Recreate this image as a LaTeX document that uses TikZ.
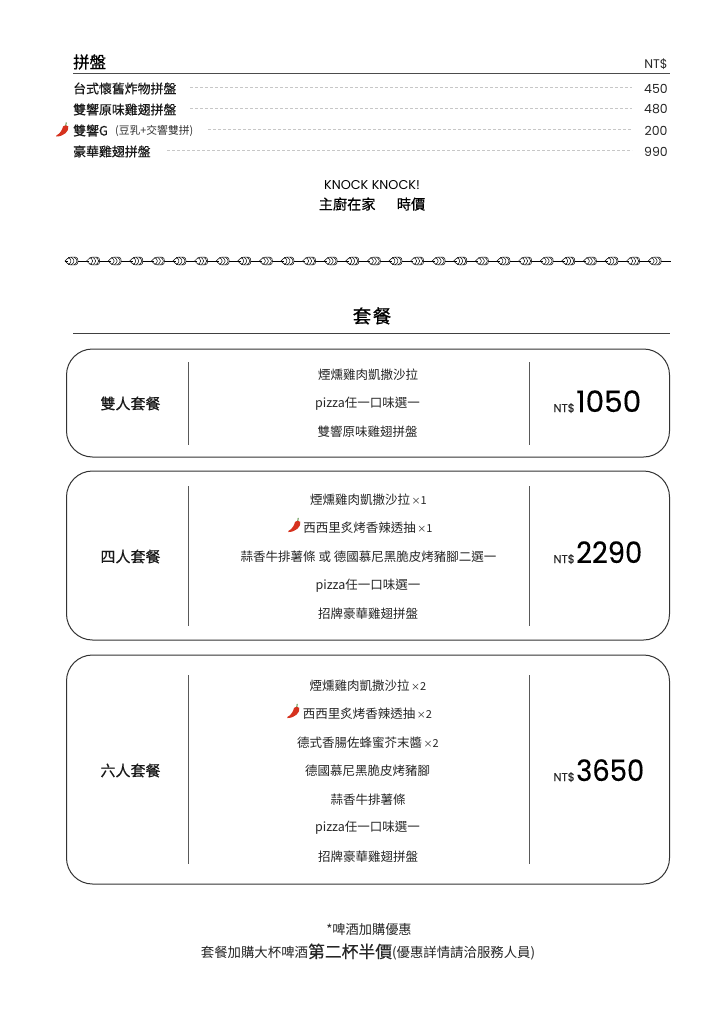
\documentclass[tikz,border=0pt]{standalone}
\usepackage{fontspec}
\setmainfont{Noto Sans CJK TC}
\newfontfamily\med[FakeBold=0.35]{Noto Sans CJK TC}
\newfontfamily\hvy[FakeBold=0.8]{Noto Sans CJK TC}
\newfontfamily\pop{Poppins}
\newfontfamily\popm[FakeBold=0.25]{Poppins}
\usetikzlibrary{calc}
\definecolor{chilired}{HTML}{D6321E}
\definecolor{stemgreen}{HTML}{4E8A3A}
\tikzset{
  txt/.style={inner sep=0pt,text=black!85,font=\fontsize{12.5}{14}\selectfont},
  itm/.style={inner sep=0pt,anchor=west,text=black!90,font=\med\fontsize{12.9}{14}\selectfont},
  price/.style={inner sep=0pt,text=black!85,font=\pop\fontsize{12.5}{14}\selectfont},
  leader/.style={draw=black!22,line width=.5pt,dash pattern=on 3pt off 2pt},
  card/.style={draw=black!80,line width=1pt,rounded corners=26pt},
  sep/.style={draw=black!65,line width=.9pt},
  setname/.style={inner sep=0pt,font=\med\fontsize{15}{16}\selectfont,text=black!90},
  big/.style={inner sep=0pt,anchor=base west,font=\popm\fontsize{29.5}{30}\selectfont,text=black},
  small/.style={inner sep=0pt,anchor=base east,font=\popm\fontsize{11.4}{12}\selectfont,text=black!85},
  grain/.style={draw=black,line width=.5pt,fill=white}
}
\newcommand{\tm}[1]{\hspace{1.5pt}{\fontsize{9}{10}\selectfont ×}{\fontsize{11}{10}\selectfont #1}}
\newcommand{\chili}[2]{%
  \begin{scope}[shift={(#1,#2)},scale=1.12]
    \fill[chilired] (5.6,-2.8) .. controls (6.6,1.5) and (1.5,6.2) .. (-5,6.3)
      .. controls (-5.6,6.3) and (-5.6,5.6) .. (-5,5.3)
      .. controls (-2,4) and (0.2,0.5) .. (1,-2.8)
      .. controls (2,-4.2) and (4.6,-4.2) .. (5.6,-2.8) -- cycle;
    \draw[stemgreen,line width=.9pt] (3.4,-3.6) -- (3.8,-6.4);
  \end{scope}}
\newcommand{\wheat}[1]{%
  \begin{scope}[shift={(#1,261)}]
    \draw[grain] (-6.5,0) .. controls (-4.5,-1) and (-4,-3.9) .. (-1,-3.9)
      -- (4,-3.9) .. controls (6,-3.9) and (6.5,-2) .. (6.5,0)
      .. controls (6.5,2) and (6,3.9) .. (4,3.9)
      -- (-1,3.9) .. controls (-4,3.9) and (-4.5,1) .. (-6.5,0) -- cycle;
    \foreach \q in {-2.5,0.5,3.5}{
      \draw[black,line width=.5pt,line join=round] (\q-.8,-3.7) .. controls (\q+.6,-3) and (\q+1.8,-1.5) .. (\q+2,0)
         .. controls (\q+1.8,1.5) and (\q+.6,3) .. (\q-.8,3.7);
    }
    \draw[black,line width=.5pt] (-3.8,0) -- (-6.5,0);
  \end{scope}}
\begin{document}
\begin{tikzpicture}[x=1pt,y=-1pt]
\useasboundingbox (0,0) rectangle (724,1024);
\fill[white] (0,0) rectangle (724,1024);

% header
\node[inner sep=0pt,anchor=west,font=\hvy\fontsize{16.4}{18}\selectfont,text=black] (hd) at (73,62) {拼盤};
\node[price] (hdp) at (656,64.5) {NT\$};
\coordinate (hl) at (73,73.5); \coordinate (hr) at (670,73.5);
\draw[draw=black!70,line width=1pt] (hl) -- (hr);

\node[itm] (a1) at (73,88.5) {台式懷舊炸物拼盤};
\node[itm] (a2) at (73,109.5) {雙響原味雞翅拼盤};
\node[itm] (a3) at (73,130.5) {雙響G};
\node[inner sep=0pt,anchor=west,text=black!80,font=\fontsize{10.8}{12}\selectfont] (a3b) at (115,130.5) {(豆乳+交響雙拼)};
\node[itm] (a4) at (73,151.5) {豪華雞翅拼盤};
\node[price] (p1) at (656,88.5) {450};
\node[price] (p2) at (656,109.5) {480};
\node[price] (p3) at (656,130.5) {200};
\node[price] (p4) at (656,151.5) {990};
\coordinate (d1) at (190,87.5); \coordinate (e1) at (632,87.5);
\coordinate (d2) at (190,108.5); \coordinate (e2) at (632,108.5);
\coordinate (d3) at (208,129.5); \coordinate (e3) at (632,129.5);
\coordinate (d4) at (167,150.5); \coordinate (e4) at (632,150.5);
\draw[leader] (d1) -- (e1);
\draw[leader] (d2) -- (e2);
\draw[leader] (d3) -- (e3);
\draw[leader] (d4) -- (e4);
\chili{62}{129.5}

\node[inner sep=0pt,text=black,font=\pop\fontsize{12.8}{14}\selectfont] (kk) at (372,185) {KNOCK KNOCK!};
\node[inner sep=0pt,text=black,font=\med\fontsize{14.2}{16}\selectfont] (ch) at (372,204) {主廚在家\hspace{1.5em}時價};

% wheat band
\coordinate (wl) at (65,261); \coordinate (wr) at (671,261);
\draw[black,line width=.6pt] (wl) -- (wr);
\foreach \k in {0,...,27}{\wheat{71.5+21.6*\k}}

\node[inner sep=0pt,text=black,font=\hvy\fontsize{18.5}{20}\selectfont] (tt) at (372,316) {套\hspace{.08em}餐};
\coordinate (sl) at (73,333.5); \coordinate (sr) at (670,333.5);
\draw[draw=black!75,line width=.7pt] (sl) -- (sr);

% cards
\draw[card] (66.5,349) rectangle (669.5,457);
\draw[card] (66.5,471) rectangle (669.5,640);
\draw[card] (66.5,655) rectangle (669.5,884);

\coordinate (v1a) at (188,362); \coordinate (v1b) at (188,445);
\coordinate (v2a) at (529,362); \coordinate (v2b) at (529,445);
\coordinate (v3a) at (188,486); \coordinate (v3b) at (188,626);
\coordinate (v4a) at (529,486); \coordinate (v4b) at (529,626);
\coordinate (v5a) at (188,675); \coordinate (v5b) at (188,864);
\coordinate (v6a) at (529,675); \coordinate (v6b) at (529,864);
\draw[sep] (v1a) -- (v1b);
\draw[sep] (v2a) -- (v2b);
\draw[sep] (v3a) -- (v3b);
\draw[sep] (v4a) -- (v4b);
\draw[sep] (v5a) -- (v5b);
\draw[sep] (v6a) -- (v6b);

% card 1
\node[setname] (s1) at (130.5,403.5) {雙人套餐};
\node[txt] (b1) at (368,374.5) {煙燻雞肉凱撒沙拉};
\node[txt] (b2) at (367.5,403.5) {pizza任一口味選一};
\node[txt] (b3) at (367.5,432) {雙響原味雞翅拼盤};
\node[small] (n1) at (575,412) {NT\$};
\node[big] (m1) at (576,412) {1050};

% card 2
\node[setname] (s2) at (130.5,556.5) {四人套餐};
\node[txt] (c1) at (368.5,499.5) {煙燻雞肉凱撒沙拉\tm{1}};
\node[txt] (c2) at (368,528) {西西里炙烤香辣透抽\tm{1}};
\chili{294}{525}
\node[txt] (c3) at (368.5,556.5) {蒜香牛排薯條 或 德國慕尼黑脆皮烤豬腳二選一};
\node[txt] (c4) at (368,585.5) {pizza任一口味選一};
\node[txt] (c5) at (368,613.5) {招牌豪華雞翅拼盤};
\node[small] (n2) at (575,563) {NT\$};
\node[big,xscale=.93] (m2) at (576,563) {2290};

% card 3
\node[setname] (s3) at (130.5,770.5) {六人套餐};
\node[txt] (f1) at (368,685.5) {煙燻雞肉凱撒沙拉\tm{2}};
\node[txt] (f2) at (367.5,713.5) {西西里炙烤香辣透抽\tm{2}};
\chili{293}{711}
\node[txt] (f3) at (368,742.5) {德式香腸佐蜂蜜芥末醬\tm{2}};
\node[txt] (f4) at (367.5,770.5) {德國慕尼黑脆皮烤豬腳};
\node[txt] (f5) at (368,799.5) {蒜香牛排薯條};
\node[txt] (f6) at (367.5,828) {pizza任一口味選一};
\node[txt] (f7) at (368,856.5) {招牌豪華雞翅拼盤};
\node[small] (n3) at (575,781) {NT\$};
\node[big,xscale=.93] (m3) at (576,781) {3650};

% footer
\node[inner sep=0pt,text=black!85,font=\fontsize{13.2}{14}\selectfont] (g1) at (369,929.5) {*啤酒加購優惠};
\node[inner sep=0pt,text=black!85,font=\fontsize{13.4}{16}\selectfont] (g2) at (368,952) {套餐加購大杯啤酒{\med\fontsize{16.8}{16}\selectfont 第二杯半價}(優惠詳情請洽服務人員)};
\end{tikzpicture}
\end{document}
